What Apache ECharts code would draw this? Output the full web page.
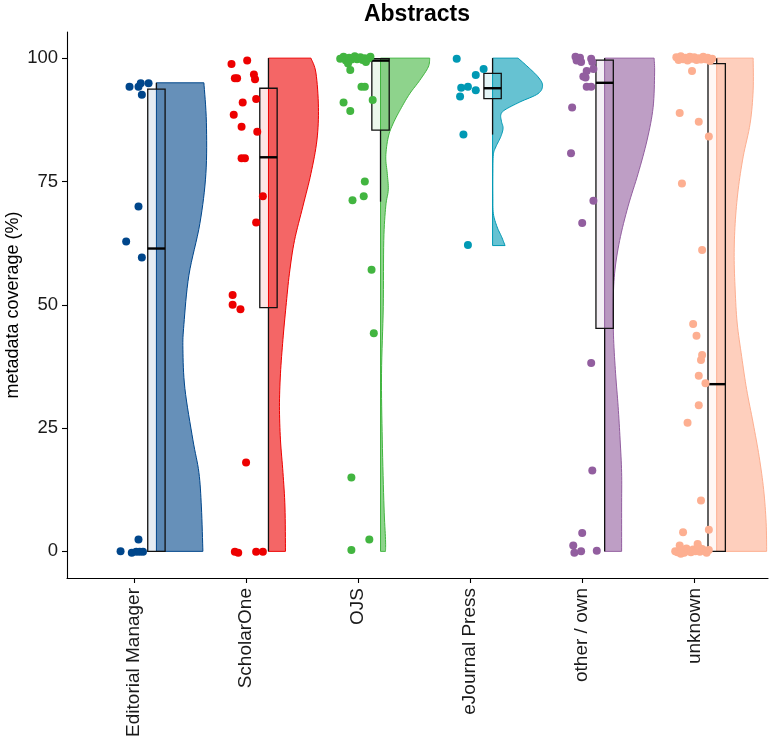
<!DOCTYPE html>
<html>
<head>
<meta charset="utf-8">
<script src="https://cdn.jsdelivr.net/npm/echarts@6/dist/echarts.min.js"></script>
<style>
  html, body { margin: 0; padding: 0; background: #fff; }
  #chart { width: 770px; height: 742px; }
</style>
</head>
<body>
<div id="chart"></div>
<script>
const categories = ['Editorial Manager', 'ScholarOne', 'OJS', 'eJournal Press', 'other / own', 'unknown']
const colors = ['#00468B', '#ED0000', '#42B540', '#0099B4', '#925E9F', '#FDAF91']
const yTicks = [0, 25, 50, 75, 100]

// boxplot stats
const whiskerLow = [0, 0, 70.9, 84.5, 0, 0]
const boxQ1 = [0, 49.4, 85.4, 91.8, 45.2, 0]
const boxMedian = [61.4, 79.9, 99.5, 93.9, 95.0, 33.9]
const boxQ3 = [93.7, 93.9, 99.9, 96.9, 99.6, 98.9]
const whiskerHigh = [95, 100, 100, 100, 100, 100]

// half violin outlines: [value, relative width]
const violinEM = [[0, 0.93], [9, 0.9], [16, 0.85], [22.6, 0.73], [33, 0.57], [41, 0.53], [46, 0.55], [56, 0.65], [66.5, 0.87], [76.6, 0.99], [87, 1.0], [95, 0.95]]
const violinSO = [[0, 0.34], [9, 0.33], [16, 0.29], [22.6, 0.24], [29.4, 0.22], [36, 0.24], [43, 0.29], [49.6, 0.35], [56.4, 0.42], [63, 0.52], [70, 0.69], [76.6, 0.85], [83.4, 0.97], [90, 1.0], [97, 0.95], [100, 0.85]]
const violinOJS = [[0, 0.1], [2.4, 0.1], [9, 0.07], [22.6, 0.035], [36, 0.02], [49.6, 0.055], [63, 0.065], [70, 0.105], [73.3, 0.155], [76.6, 0.135], [80, 0.105], [84, 0.155], [86.8, 0.255], [90, 0.42], [92.8, 0.585], [95.5, 0.785], [98.2, 0.955], [100, 0.985]]
const violinEJP = [[62, 0.25], [63.8, 0.18], [65.8, 0.09], [68.5, 0.015], [72, 0.005], [76.6, 0.005], [80.4, 0.015], [82, 0.065], [84.1, 0.165], [85.8, 0.21], [87.1, 0.18], [88.5, 0.165], [89.5, 0.245], [91.1, 0.545], [92.8, 0.91], [94.5, 1.0], [96.2, 0.91], [98.2, 0.71], [100, 0.51]]
const violinOO = [[0, 0.34], [9, 0.34], [16, 0.34], [22.6, 0.31], [29.4, 0.27], [36, 0.22], [43, 0.18], [49.6, 0.17], [56.4, 0.2], [63, 0.3], [70, 0.47], [76.6, 0.67], [83.4, 0.85], [90, 0.97], [97, 1.0], [100, 0.99]]
const violinUN = [[0, 1.0], [5.8, 0.99], [12.5, 0.94], [19.2, 0.85], [26, 0.73], [32.8, 0.6], [39.5, 0.5], [46.3, 0.41], [53, 0.37], [59.8, 0.35], [66.5, 0.37], [73.3, 0.43], [80, 0.53], [86.8, 0.67], [93.5, 0.73], [100, 0.73]]
const violins = [violinEM, violinSO, violinOJS, violinEJP, violinOO, violinUN]

// jittered points: [horizontal jitter, coverage]
const pointsEM = [[-0.04, 94.2], [0.06, 94.9], [0.13, 94.9], [0.07, 92.6], [0.04, 94.2],
  [0.04, 69.9], [-0.07, 62.8], [0.07, 59.6],
  [0.04, 2.4], [-0.12, 0], [-0.02, -0.3], [0.02, -0.1], [0.05, -0.1], [0.08, -0.1]]
const pointsSO = [[-0.13, 98.8], [0.01, 99.5], [-0.1, 95.9], [-0.08, 95.9], [0.07, 96.7], [0.08, 95.7],
  [-0.03, 91.0], [0.09, 91.7], [-0.11, 88.5], [-0.04, 86.1], [0.1, 85.1], [-0.04, 79.7], [-0.01, 79.7],
  [0.15, 72.0], [0.09, 66.7], [-0.12, 52.0], [-0.12, 50.0], [-0.05, 49.1], [0, 18.0],
  [-0.1, -0.1], [-0.07, -0.3], [0.09, -0.1], [0.15, -0.1]]
const pointsOJS = [[-0.16, 99.9], [-0.13, 100.3], [-0.11, 99.5], [-0.08, 100.1], [-0.06, 99.7], [-0.03, 100.4],
  [-0.01, 99.8], [0.02, 100.2], [0.04, 99.6], [0.06, 100.0], [0.09, 99.9], [0.11, 100.3], [-0.09, 98.9], [0.07, 99.2],
  [-0.07, 97.6], [0.03, 94.2], [0.06, 94.2], [-0.13, 91.0], [0.13, 91.5], [-0.07, 89.3],
  [0.06, 75.0], [0.05, 72.0], [-0.05, 71.2], [0.12, 57.1], [0.14, 44.2], [-0.06, 15.0], [0.1, 2.4], [-0.06, 0.3]]
const pointsEJP = [[-0.12, 99.9], [0.12, 97.8], [0.05, 96.6], [-0.08, 94.0], [-0.02, 94.2], [0.05, 93.5],
  [-0.09, 92.2], [-0.06, 84.5], [-0.02, 62.1]]
const pointsOO = [[-0.06, 100.3], [-0.02, 100.1], [-0.05, 99.5], [-0.01, 99.2], [0.08, 99.9], [0.09, 99.2],
  [0.04, 97.4], [0.1, 97.8], [0.01, 96.3], [0.03, 96.1], [0.04, 94.2], [0.08, 94.2],
  [-0.09, 90.0], [-0.1, 80.7], [0.1, 71.1], [0, 66.6], [0.08, 38.2], [0.09, 16.4],
  [0, 3.7], [-0.08, 1.2], [-0.07, -0.3], [-0.01, 0], [0.13, 0.1]]
const pointsUN = [[-0.16, 100.2], [-0.14, 99.6], [-0.12, 100.4], [-0.1, 99.8], [-0.08, 100.1], [-0.06, 99.5],
  [-0.04, 100.3], [-0.02, 99.9], [0, 100.2], [0.02, 99.6], [0.04, 100.0], [0.06, 99.7], [0.08, 100.3],
  [0.1, 99.8], [0.12, 100.1], [0.14, 99.4], [0.16, 99.9], [-0.02, 97.4],
  [-0.13, 88.9], [0.04, 87.1], [0.13, 84.1], [-0.11, 74.6], [0.07, 61.1], [-0.01, 46.1], [0.02, 43.7],
  [0.07, 39.8], [0.06, 38.8], [0.04, 35.6], [0.1, 34.1], [0.04, 29.6], [-0.06, 26.1], [0.06, 10.3],
  [-0.1, 3.9], [0.13, 4.4],
  [-0.17, 0.0], [-0.15, -0.2], [-0.13, 1.2], [-0.11, 0.3], [-0.09, -0.3], [-0.07, 0.6], [-0.05, 0.1],
  [-0.03, -0.2], [-0.01, 0.4], [0.01, 0.0], [0.03, 1.5], [0.05, -0.1], [0.07, 0.5], [0.09, 0.2],
  [0.11, -0.3], [0.13, 0.3], [-0.12, -0.5], [0.04, 0.8]]
const groupPoints = [pointsEM, pointsSO, pointsOJS, pointsEJP, pointsOO, pointsUN]

const NUDGE = 0.2        // violin + box offset from category centre
const VIOLIN_W = 0.446   // max half-violin width in category units
const BOX_W = 0.155
const FONT = 'Liberation Sans, Arial, sans-serif'

function catmull(pts, steps) {
  const out = []
  for (let i = 0; i < pts.length - 1; i++) {
    const p0 = pts[Math.max(i - 1, 0)], p1 = pts[i], p2 = pts[i + 1], p3 = pts[Math.min(i + 2, pts.length - 1)]
    for (let s = 0; s < steps; s++) {
      const t = s / steps, t2 = t * t, t3 = t2 * t
      const f = k => 0.5 * (2 * p1[k] + (-p0[k] + p2[k]) * t + (2 * p0[k] - 5 * p1[k] + 4 * p2[k] - p3[k]) * t2 + (-p0[k] + 3 * p1[k] - 3 * p2[k] + p3[k]) * t3)
      out.push([f(0), f(1)])
    }
  }
  out.push(pts[pts.length - 1])
  return out
}

const violinSeries = {
  type: 'custom',
  z: 1,
  data: categories.map((c, i) => [i, 0]),
  encode: { x: 0, y: 1 },
  renderItem: (params, api) => {
    const g = api.value(0)
    const prof = violins[g]
    const base = g + NUDGE
    const right = prof.slice().reverse().map(([v, w]) => api.coord([base + w * VIOLIN_W, v]))
    const pts = [api.coord([base, prof[0][0]]), api.coord([base, prof[prof.length - 1][0]])].concat(catmull(right, 8))
    const c = colors[g]
    return {
      type: 'polygon',
      shape: { points: pts },
      style: { fill: echarts.color.modifyAlpha(c, 0.6), stroke: c, lineWidth: 1 }
    }
  }
}

const boxSeries = {
  type: 'custom',
  z: 2,
  data: categories.map((c, i) => [i, boxMedian[i]]),
  encode: { x: 0, y: 1 },
  renderItem: (params, api) => {
    const g = api.value(0)
    const cx = g + NUDGE
    const lo = api.coord([cx, whiskerLow[g]])
    const q1 = api.coord([cx - BOX_W / 2, boxQ1[g]])
    const q3 = api.coord([cx + BOX_W / 2, boxQ3[g]])
    const hi = api.coord([cx, whiskerHigh[g]])
    const m1 = api.coord([cx - BOX_W / 2, boxMedian[g]])
    const m2 = api.coord([cx + BOX_W / 2, boxMedian[g]])
    const q1c = api.coord([cx, boxQ1[g]])
    const q3c = api.coord([cx, boxQ3[g]])
    const lineStyle = { stroke: '#111', lineWidth: 1.3 }
    return {
      type: 'group',
      children: [
        { type: 'line', shape: { x1: lo[0], y1: lo[1], x2: q1c[0], y2: q1c[1] }, style: lineStyle },
        { type: 'line', shape: { x1: q3c[0], y1: q3c[1], x2: hi[0], y2: hi[1] }, style: lineStyle },
        {
          type: 'rect',
          shape: { x: q1[0], y: q3[1], width: q3[0] - q1[0], height: q1[1] - q3[1] },
          style: { fill: echarts.color.modifyAlpha(colors[g], 0.1), stroke: '#111', lineWidth: 1.3 }
        },
        { type: 'line', shape: { x1: m1[0], y1: m1[1], x2: m2[0], y2: m2[1] }, style: { stroke: '#000', lineWidth: 2.4 } }
      ]
    }
  }
}

const pointSeries = groupPoints.map((pts, g) => ({
  type: 'scatter',
  name: categories[g],
  z: 3,
  symbolSize: 8,
  itemStyle: { color: colors[g], opacity: 1 },
  data: pts.map(([dx, v]) => [g + dx, v])
}))

const chart = echarts.init(document.getElementById('chart'))
chart.setOption({
  animation: false,
  backgroundColor: '#fff',
  graphic: [{
    type: 'text', x: 417, y: 3,
    style: { text: 'Abstracts', align: 'center', fill: '#000', font: 'bold 23px ' + FONT }
  }],
  grid: { left: 67, right: 2, top: 32, bottom: 164, outerBoundsMode: 'none', containLabel: false },
  xAxis: {
    type: 'value',
    min: -0.598,
    max: 5.658,
    splitLine: { show: false },
    axisLine: { onZero: false, lineStyle: { color: '#000', width: 1.1 } },
    axisTick: { customValues: categories.map((c, i) => i), length: 5, lineStyle: { color: '#000', width: 1.1 } },
    axisLabel: {
      customValues: categories.map((c, i) => i),
      formatter: v => categories[Math.round(v)],
      rotate: 90, margin: 10,
      fontSize: 19, fontFamily: FONT, color: '#1a1a1a'
    }
  },
  yAxis: {
    type: 'value',
    min: -5.4,
    max: 105.3,
    name: 'metadata coverage (%)',
    nameLocation: 'middle',
    nameGap: 45,
    nameMoveOverlap: false,
    nameTextStyle: { fontSize: 18, fontFamily: FONT, color: '#000' },
    splitLine: { show: false },
    axisLine: { onZero: false, lineStyle: { color: '#000', width: 1.1 } },
    axisTick: { customValues: yTicks, length: 5, lineStyle: { color: '#000', width: 1.1 } },
    axisLabel: { customValues: yTicks, margin: 9, fontSize: 18.5, fontFamily: FONT, color: '#1a1a1a' }
  },
  series: [violinSeries, boxSeries].concat(pointSeries)
})
</script>
</body>
</html>
